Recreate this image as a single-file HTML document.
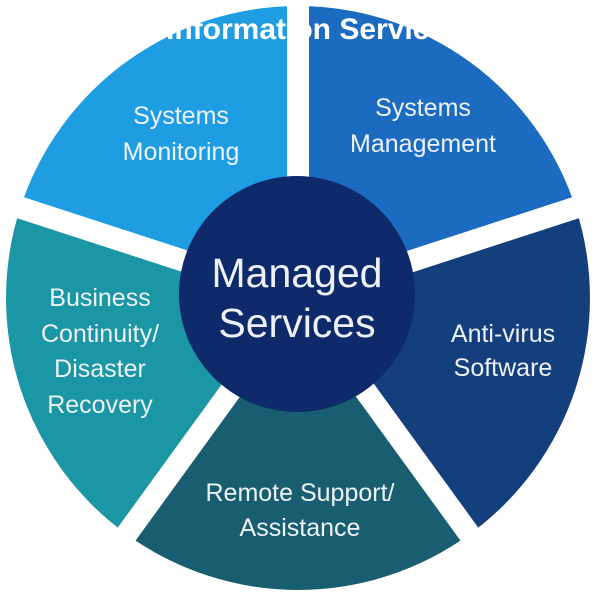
<!DOCTYPE html>
<html><head><meta charset="utf-8"><style>
html,body{margin:0;padding:0;background:#fff;}
svg{display:block;}
text{font-family:"Liberation Sans",sans-serif;fill:#eef2f6;text-anchor:middle;}
</style></head><body>
<svg width="600" height="597" viewBox="0 0 600 597">
<g>
<path d="M298 298 L20.3 207.8 A292 292 0 0 1 298 6 Z" fill="#1f9de2"/>
<path d="M298 298 L298 6 A292 292 0 0 1 575.7 207.8 Z" fill="#1b6cc1"/>
<path d="M298 298 L575.7 207.8 A292 292 0 0 1 469.6 534.2 Z" fill="#133f7d"/>
<path d="M298 298 L469.6 534.2 A292 292 0 0 1 126.4 534.2 Z" fill="#195e70"/>
<path d="M298 298 L126.4 534.2 A292 292 0 0 1 20.3 207.8 Z" fill="#1a96a4"/>
</g>
<text x="166" y="39" style="font-size:30px;font-weight:bold;fill:#fff;text-anchor:start">Information Services</text>
<g stroke="#fff" stroke-width="22" stroke-linecap="butt">
<line x1="298" y1="298" x2="298" y2="0"/>
<line x1="298" y1="298" x2="590" y2="203"/>
<line x1="298" y1="298" x2="478" y2="546"/>
<line x1="298" y1="298" x2="118" y2="546"/>
<line x1="298" y1="298" x2="6" y2="203"/>
</g>
<circle cx="297" cy="294" r="118" fill="#0e2a6a"/>
<text x="297" y="287" style="font-size:41px">Managed</text>
<text x="297" y="337" style="font-size:41px">Services</text>
<g style="font-size:25px">
<text x="181" y="124">Systems</text>
<text x="181" y="160">Monitoring</text>
<text x="423" y="116">Systems</text>
<text x="423" y="152">Management</text>
<text x="100" y="306">Business</text>
<text x="100" y="342">Continuity/</text>
<text x="100" y="377">Disaster</text>
<text x="100" y="413">Recovery</text>
<text x="503" y="342">Anti-virus</text>
<text x="503" y="376">Software</text>
<text x="300" y="501">Remote Support/</text>
<text x="300" y="536">Assistance</text>
</g>
</svg>
</body></html>
